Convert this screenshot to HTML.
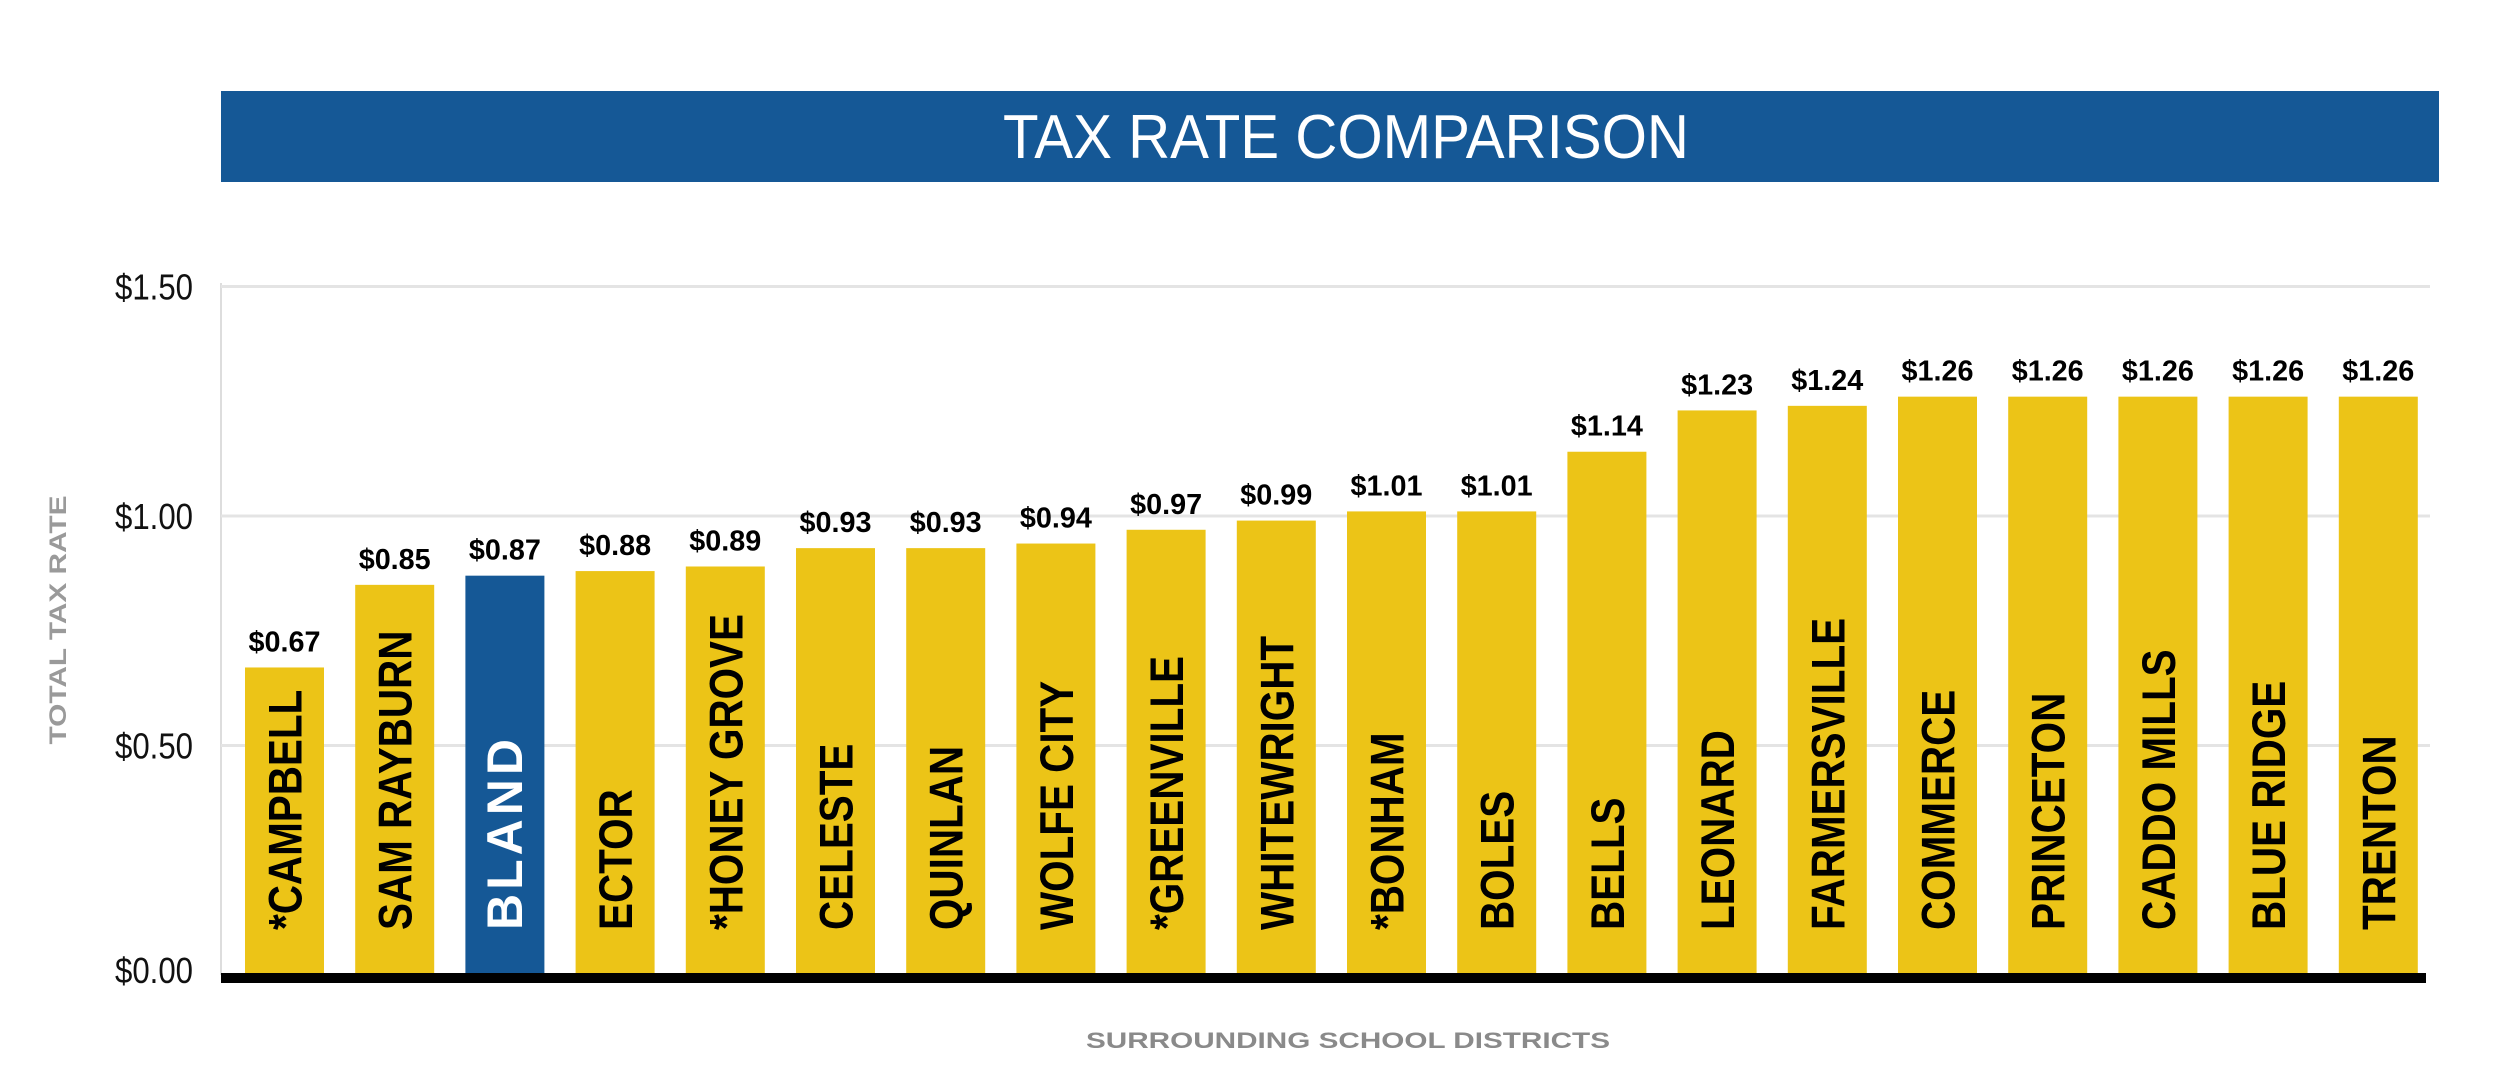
<!DOCTYPE html>
<html><head><meta charset="utf-8"><style>
html,body{margin:0;padding:0;background:#fff;}
svg{display:block;font-family:"Liberation Sans",sans-serif;}
</style></head><body>
<svg id="chart" width="2500" height="1070" viewBox="0 0 2500 1070">
<rect x="221" y="91" width="2218" height="91" fill="#155896"/>
<text x="1346" y="158" text-anchor="middle" font-size="62" fill="#fff" textLength="686" lengthAdjust="spacingAndGlyphs">TAX RATE COMPARISON</text>
<line x1="221" y1="283" x2="221" y2="975" stroke="#ddd" stroke-width="2"/>
<g id="grid"></g><g id="bars"></g>
<rect x="221" y="973" width="2205" height="10" fill="#000"/>
<text transform="translate(66,620) rotate(-90)" text-anchor="middle" font-size="24" font-weight="bold" fill="#9a9a9a" textLength="249" lengthAdjust="spacingAndGlyphs">TOTAL TAX RATE</text>
<text x="1348" y="1048" text-anchor="middle" font-size="22" font-weight="bold" fill="#8a8a8a" textLength="524" lengthAdjust="spacingAndGlyphs">SURROUNDING SCHOOL DISTRICTS</text>
</svg>
<script>
const categories=["*CAMPBELL","SAM RAYBURN","BLAND","ECTOR","*HONEY GROVE","CELESTE","QUINLAN","WOLFE CITY","*GREENVILLE","WHITEWRIGHT","*BONHAM","BOLES","BELLS","LEONARD","FARMERSVILLE","COMMERCE","PRINCETON","CADDO MILLS","BLUE RIDGE","TRENTON"];
const values=[0.67,0.85,0.87,0.88,0.89,0.93,0.93,0.94,0.97,0.99,1.01,1.01,1.14,1.23,1.24,1.26,1.26,1.26,1.26,1.26];
const valueLabels=["$0.67","$0.85","$0.87","$0.88","$0.89","$0.93","$0.93","$0.94","$0.97","$0.99","$1.01","$1.01","$1.14","$1.23","$1.24","$1.26","$1.26","$1.26","$1.26","$1.26"];
const highlight="BLAND";
const ticks=[0,0.5,1.0,1.5];
const tickLabels=["$0.00","$0.50","$1.00","$1.50"];
const NS="http://www.w3.org/2000/svg";
const y=v=>975-v*459;
const x=i=>245+i*110.2;
const BW=79;
const grid=document.getElementById('grid'),bars=document.getElementById('bars');
ticks.forEach((t,i)=>{
 if(t>0){const l=document.createElementNS(NS,'line');
 
 
 l.setAttribute('x1',221);l.setAttribute('x2',2430);l.setAttribute('y1',y(t));l.setAttribute('y2',y(t));
 l.setAttribute('stroke','#e4e4e4');l.setAttribute('stroke-width',3);grid.appendChild(l);}
 const tx=document.createElementNS(NS,'text');
 
 
 tx.setAttribute('x',193);tx.setAttribute('y',t===0?983:y(t)+13);tx.setAttribute('text-anchor','end');
 tx.setAttribute('font-size',36);tx.setAttribute('fill','#111');
 tx.setAttribute('textLength',78);tx.setAttribute('lengthAdjust','spacingAndGlyphs');
 tx.textContent=tickLabels[i];grid.appendChild(tx);
});
categories.forEach((c,i)=>{
 const hi=c===highlight;
 const r=document.createElementNS(NS,'rect');
 
 
 r.setAttribute('x',x(i));r.setAttribute('y',y(values[i]));r.setAttribute('width',BW);r.setAttribute('height',975-y(values[i]));
 r.setAttribute('fill',hi?'#155896':'#ecc417');bars.appendChild(r);
 const v=document.createElementNS(NS,'text');
 
 
 v.setAttribute('x',x(i)+BW/2);v.setAttribute('y',y(values[i])-16);v.setAttribute('text-anchor','middle');
 v.setAttribute('font-size',29);v.setAttribute('font-weight','bold');v.setAttribute('fill','#000');
 v.setAttribute('textLength',72);v.setAttribute('lengthAdjust','spacingAndGlyphs');
 v.textContent=valueLabels[i];bars.appendChild(v);
 const n=document.createElementNS(NS,'text');
 
 
 n.setAttribute('transform','translate('+(x(i)+BW/2+17)+',930) rotate(-90) scale('+(hi?1:0.86)+',1)');
 n.setAttribute('font-size',hi?50:47);n.setAttribute('fill',hi?'#fff':'#000');
 n.setAttribute('font-weight',hi?'bold':'bold');
 if(hi)n.setAttribute('letter-spacing','4');
 n.textContent=c;bars.appendChild(n);
});
</script>
</body></html>
